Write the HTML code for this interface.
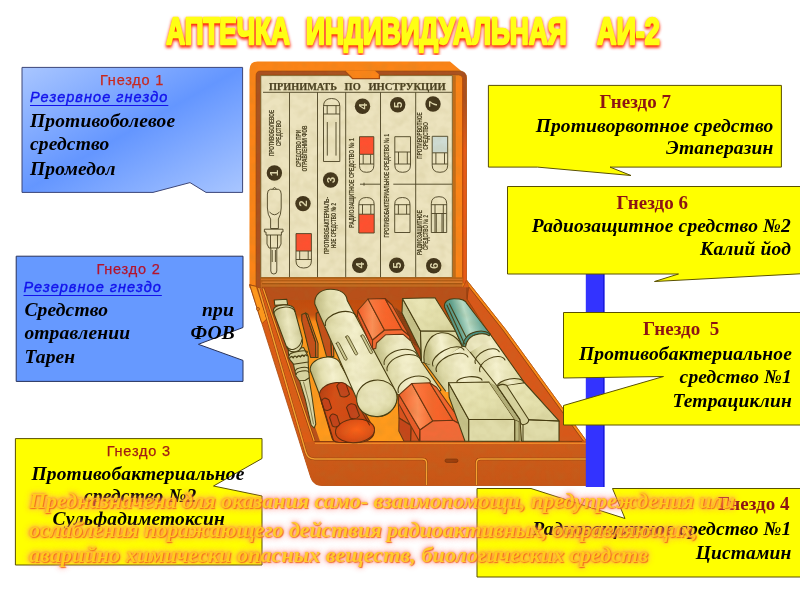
<!DOCTYPE html>
<html lang="ru">
<head>
<meta charset="utf-8">
<title>Аптечка индивидуальная АИ-2</title>
<style>
html,body{margin:0;padding:0;background:#fff;}
body{width:800px;height:600px;position:relative;overflow:hidden;font-family:"Liberation Serif",serif;}
#art{position:absolute;left:0;top:0;width:800px;height:600px;overflow:visible;}
#wrap{position:absolute;left:0;top:0;width:800px;height:600px;filter:blur(.5px);}
.t{position:absolute;white-space:nowrap;line-height:1;margin:0;}
.sans{font-family:"Liberation Sans",sans-serif;}
.gn{font-family:"Liberation Sans",sans-serif;color:#c8281e;font-size:14.5px;letter-spacing:.8px;}
.rz{font-family:"Liberation Sans",sans-serif;color:#1212ec;font-size:14.5px;letter-spacing:1.05px;font-style:italic;text-decoration:underline;}
.bi{font-family:"Liberation Serif",serif;font-weight:bold;font-style:italic;color:#000;font-size:19.5px;letter-spacing:.15px;}
.gr{font-family:"Liberation Serif",serif;font-weight:bold;color:#8c1414;font-size:19px;}
.r{text-align:right;}
#title{position:absolute;left:163px;top:11px;width:500px;height:44px;}
.ttl{font-family:"Liberation Sans",sans-serif;font-weight:bold;}
.bot{font-family:"Liberation Serif",serif;font-weight:bold;font-style:italic;font-size:22px;color:#ffc81e;opacity:.94;
 text-shadow:1px 1px 1px rgba(240,100,30,.95),0 0 2px rgba(250,110,60,.8),0 0 4px rgba(255,110,90,.75),0 0 6px rgba(255,140,125,.7),0 0 9px rgba(255,170,160,.6);}
#b2{letter-spacing:-.07px}#b3{letter-spacing:.1px}
.gn{-webkit-text-stroke:.25px currentColor;}.rz{-webkit-text-stroke:.4px currentColor;text-underline-offset:2.6px;text-decoration-thickness:1.4px;}
</style>
</head>
<body>
<div id="wrap">
<svg id="art" viewBox="0 0 800 600" width="800" height="600">
<defs>
<linearGradient id="gb1" x1="0" y1="0" x2="1" y2="1">
<stop offset="0" stop-color="#a9c6ff"/><stop offset=".5" stop-color="#6496ff"/><stop offset="1" stop-color="#a9c6ff"/>
</linearGradient>
</defs>
<!-- KIT-START -->
<defs>
<filter id="mott" x="0" y="0" width="100%" height="100%">
<feTurbulence type="fractalNoise" baseFrequency="0.09" numOctaves="2" seed="4" result="n"/>
<feColorMatrix in="n" type="matrix" values="0 0 0 0 0.35  0 0 0 0 0.33  0 0 0 0 0.12  0.55 0 0 0 -0.24" result="m"/>
<feComposite in="m" in2="SourceGraphic" operator="in" result="mm"/>
<feMerge><feMergeNode in="SourceGraphic"/><feMergeNode in="mm"/></feMerge>
</filter>
<linearGradient id="floorg" x1="0" y1="0" x2="0" y2="1">
<stop offset="0" stop-color="#bc480c"/><stop offset=".17" stop-color="#c8500f"/><stop offset=".215" stop-color="#f98a18"/><stop offset=".3" stop-color="#ff981c"/><stop offset="1" stop-color="#ff9a1c"/>
</linearGradient>
<linearGradient id="frontg" x1="0" y1="0" x2="0" y2="1">
<stop offset="0" stop-color="#ce5c1a"/><stop offset="1" stop-color="#c85616"/>
</linearGradient>
</defs>
<defs>
<linearGradient id="cylW" x1="0" y1="0.2" x2="1" y2="0">
<stop offset="0" stop-color="#bcb87e"/><stop offset=".18" stop-color="#e2deae"/><stop offset=".42" stop-color="#f5f1ce"/><stop offset=".75" stop-color="#e2deac"/><stop offset="1" stop-color="#c2be86"/>
</linearGradient>
<linearGradient id="cylA" x1="0" y1="0.2" x2="1" y2="0">
<stop offset="0" stop-color="#c4c088"/><stop offset=".45" stop-color="#eeeac2"/><stop offset="1" stop-color="#c6c28c"/>
</linearGradient>
<radialGradient id="endW" cx=".45" cy=".4" r=".65">
<stop offset="0" stop-color="#f0ecc8"/><stop offset=".7" stop-color="#e2deae"/><stop offset="1" stop-color="#c8c48c"/>
</radialGradient>
<linearGradient id="redcap" x1="0" y1="0" x2="1" y2=".3">
<stop offset="0" stop-color="#b23a10"/><stop offset=".3" stop-color="#d64e16"/><stop offset=".7" stop-color="#d04a14"/><stop offset="1" stop-color="#b84012"/>
</linearGradient>
<radialGradient id="redend" cx=".55" cy=".45" r=".6">
<stop offset="0" stop-color="#fa6218"/><stop offset=".6" stop-color="#e25216"/><stop offset="1" stop-color="#c84614"/>
</radialGradient>
<linearGradient id="hexL" x1="0" y1="0" x2="1" y2="0"><stop offset="0" stop-color="#f25e28"/><stop offset=".55" stop-color="#fd9058"/><stop offset="1" stop-color="#f86a30"/></linearGradient>
<linearGradient id="hexT" x1="0" y1="0" x2="1" y2="0"><stop offset="0" stop-color="#fb7c44"/><stop offset=".5" stop-color="#f8662c"/><stop offset="1" stop-color="#f45e26"/></linearGradient>
<linearGradient id="hexR" x1="0" y1="0" x2="1" y2="0"><stop offset="0" stop-color="#f76c34"/><stop offset="1" stop-color="#ec5a24"/></linearGradient>
<linearGradient id="boxT" x1="0" y1="0" x2="1" y2="1"><stop offset="0" stop-color="#ece8ba"/><stop offset=".55" stop-color="#e5e1ae"/><stop offset="1" stop-color="#d6d29c"/></linearGradient>
<linearGradient id="teal" x1="0" y1="0.3" x2="1" y2="0">
<stop offset="0" stop-color="#4a8a7c"/><stop offset=".2" stop-color="#60a290"/><stop offset=".42" stop-color="#b8dcc8"/><stop offset=".7" stop-color="#6aa898"/><stop offset="1" stop-color="#4a8e84"/>
</linearGradient>
</defs>
<defs>
<clipPath id="kitclip"><path d="M249.5 286V70Q249.5 62 257.5 62H451L466.5 75V280L506 330L586.5 441V485.5H322Q313.5 485.5 310.8 477.5Z"/></clipPath>
<filter id="grain" x="0" y="0" width="100%" height="100%">
<feTurbulence type="fractalNoise" baseFrequency="0.11" numOctaves="2" seed="11" result="n"/>
<feColorMatrix in="n" type="matrix" values="0 0 0 0 0.30  0 0 0 0 0.24  0 0 0 0 0.05  1.1 0 0 0 -0.42"/>
</filter>
</defs>
<defs><linearGradient id="lidR" gradientUnits="userSpaceOnUse" x1="0" y1="100" x2="0" y2="150"><stop offset="0" stop-color="#aa5020"/><stop offset="1" stop-color="#e65a18"/></linearGradient></defs>

<g id="lid">
<path d="M249.5 288V70Q249.5 61.6 257.5 61.6H450L466.6 75.4V288Z" fill="#fa8418"/>
<path d="M256 288V76Q256 71 260.5 71H459.5Q466.5 71.2 466.5 78V283H462.6V78.5Q462.6 75 458.6 75H260.8V288Z" fill="#aa5020" stroke="#984608" stroke-width=".6"/>
<path d="M462.6 100H466.5V283H462.6Z" fill="url(#lidR)"/>
<path d="M462.8 78V283" stroke="#c04a0a" stroke-width="1.1" fill="none"/>
<path d="M452.2 75H455.8V279H452.2Z" fill="#c46c18"/>
<path d="M260.8 277.5V75.6H452.3V277.5Z" fill="#ece3be" stroke="#6e5a28" stroke-width=".8"/>
<path d="M344.6 70.4L352.6 78.4H379.2V74.6L374.6 70.4Z" fill="#fa8418"/>
<path d="M344.8 71L352.6 78.6H379.4V74.6" fill="none" stroke="#a84c10" stroke-width="1.3"/>
<g font-family="Liberation Serif, serif" font-weight="bold" font-size="11.4" fill="#4a4122" stroke="#4a4122" stroke-width=".25">
<text x="269" y="89.6" textLength="68" lengthAdjust="spacingAndGlyphs">ПРИНИМАТЬ</text>
<text x="344.6" y="89.6" textLength="16.2" lengthAdjust="spacingAndGlyphs">ПО</text>
<text x="368.4" y="89.6" textLength="77.4" lengthAdjust="spacingAndGlyphs">ИНСТРУКЦИИ</text>
</g>
<g stroke="#4a4122" stroke-width=".9" fill="none">
<path d="M263 92.3H452"/>
<path d="M289.5 92.3V277.5"/>
<path d="M317.5 92.3V277.5"/>
<path d="M345.7 92.3V277.5"/>
<path d="M380.5 92.3V277.5"/>
<path d="M415.7 92.3V277.5"/>
<path d="M360 184.2H380.5M393.3 184.2H452M364 182.7v3"/>
</g>
<circle cx="274.4" cy="173" r="7.7" fill="#43361c"/><text transform="translate(278.4,173) rotate(-90)" text-anchor="middle" font-family="Liberation Sans, sans-serif" font-weight="bold" font-size="11.5" fill="#e1d9b0">1</text>
<circle cx="303" cy="203.6" r="7.7" fill="#43361c"/><text transform="translate(307,203.6) rotate(-90)" text-anchor="middle" font-family="Liberation Sans, sans-serif" font-weight="bold" font-size="11.5" fill="#e1d9b0">2</text>
<circle cx="330.6" cy="180" r="7.7" fill="#43361c"/><text transform="translate(334.6,180) rotate(-90)" text-anchor="middle" font-family="Liberation Sans, sans-serif" font-weight="bold" font-size="11.5" fill="#e1d9b0">3</text>
<circle cx="362.5" cy="106.2" r="7.7" fill="#43361c"/><text transform="translate(366.5,106.2) rotate(-90)" text-anchor="middle" font-family="Liberation Sans, sans-serif" font-weight="bold" font-size="11.5" fill="#e1d9b0">4</text>
<circle cx="397.7" cy="104.8" r="7.7" fill="#43361c"/><text transform="translate(401.7,104.8) rotate(-90)" text-anchor="middle" font-family="Liberation Sans, sans-serif" font-weight="bold" font-size="11.5" fill="#e1d9b0">5</text>
<circle cx="433" cy="104" r="7.7" fill="#43361c"/><text transform="translate(437,104) rotate(-90)" text-anchor="middle" font-family="Liberation Sans, sans-serif" font-weight="bold" font-size="11.5" fill="#e1d9b0">7</text>
<circle cx="359.7" cy="265.3" r="7.7" fill="#43361c"/><text transform="translate(363.7,265.3) rotate(-90)" text-anchor="middle" font-family="Liberation Sans, sans-serif" font-weight="bold" font-size="11.5" fill="#e1d9b0">4</text>
<circle cx="396.7" cy="265.3" r="7.7" fill="#43361c"/><text transform="translate(400.7,265.3) rotate(-90)" text-anchor="middle" font-family="Liberation Sans, sans-serif" font-weight="bold" font-size="11.5" fill="#e1d9b0">5</text>
<circle cx="433.7" cy="265.8" r="7.7" fill="#43361c"/><text transform="translate(437.7,265.8) rotate(-90)" text-anchor="middle" font-family="Liberation Sans, sans-serif" font-weight="bold" font-size="11.5" fill="#e1d9b0">6</text>
<text transform="translate(274.4,133) rotate(-90)" text-anchor="middle" textLength="46" lengthAdjust="spacingAndGlyphs" font-family="Liberation Sans, sans-serif" font-weight="bold" font-size="7.4" fill="#4c4426" stroke="#4c4426" stroke-width=".12">ПРОТИВОБОЛЕВОЕ</text>
<text transform="translate(280.8,133.3) rotate(-90)" text-anchor="middle" textLength="25.5" lengthAdjust="spacingAndGlyphs" font-family="Liberation Sans, sans-serif" font-weight="bold" font-size="7.4" fill="#4c4426" stroke="#4c4426" stroke-width=".12">СРЕДСТВО</text>
<text transform="translate(300.8,148.5) rotate(-90)" text-anchor="middle" textLength="37" lengthAdjust="spacingAndGlyphs" font-family="Liberation Sans, sans-serif" font-weight="bold" font-size="7.4" fill="#4c4426" stroke="#4c4426" stroke-width=".12">СРЕДСТВО ПРИ</text>
<text transform="translate(307.2,148.5) rotate(-90)" text-anchor="middle" textLength="46" lengthAdjust="spacingAndGlyphs" font-family="Liberation Sans, sans-serif" font-weight="bold" font-size="7.4" fill="#4c4426" stroke="#4c4426" stroke-width=".12">ОТРАВЛЕНИИ ФОВ</text>
<text transform="translate(328.8,225.5) rotate(-90)" text-anchor="middle" textLength="57" lengthAdjust="spacingAndGlyphs" font-family="Liberation Sans, sans-serif" font-weight="bold" font-size="7.4" fill="#4c4426" stroke="#4c4426" stroke-width=".12">ПРОТИВОБАКТЕРИАЛЬ-</text>
<text transform="translate(336.2,225.5) rotate(-90)" text-anchor="middle" textLength="45" lengthAdjust="spacingAndGlyphs" font-family="Liberation Sans, sans-serif" font-weight="bold" font-size="7.4" fill="#4c4426" stroke="#4c4426" stroke-width=".12">НОЕ СРЕДСТВО № 2</text>
<text transform="translate(354.3,183) rotate(-90)" text-anchor="middle" textLength="89.5" lengthAdjust="spacingAndGlyphs" font-family="Liberation Sans, sans-serif" font-weight="bold" font-size="7.4" fill="#4c4426" stroke="#4c4426" stroke-width=".12">РАДИОЗАЩИТНОЕ  СРЕДСТВО № 1</text>
<text transform="translate(389,185.7) rotate(-90)" text-anchor="middle" textLength="103.5" lengthAdjust="spacingAndGlyphs" font-family="Liberation Sans, sans-serif" font-weight="bold" font-size="7.4" fill="#4c4426" stroke="#4c4426" stroke-width=".12">ПРОТИВОБАКТЕРИАЛЬНОЕ СРЕДСТВО № 1</text>
<text transform="translate(421.8,135.5) rotate(-90)" text-anchor="middle" textLength="46.5" lengthAdjust="spacingAndGlyphs" font-family="Liberation Sans, sans-serif" font-weight="bold" font-size="7.4" fill="#4c4426" stroke="#4c4426" stroke-width=".12">ПРОТИВОРВОТНОЕ</text>
<text transform="translate(427.8,136) rotate(-90)" text-anchor="middle" textLength="27.5" lengthAdjust="spacingAndGlyphs" font-family="Liberation Sans, sans-serif" font-weight="bold" font-size="7.4" fill="#4c4426" stroke="#4c4426" stroke-width=".12">СРЕДСТВО</text>
<text transform="translate(421.8,232.5) rotate(-90)" text-anchor="middle" textLength="45" lengthAdjust="spacingAndGlyphs" font-family="Liberation Sans, sans-serif" font-weight="bold" font-size="7.4" fill="#4c4426" stroke="#4c4426" stroke-width=".12">РАДИОЗАЩИТНОЕ</text>
<text transform="translate(427.6,232.5) rotate(-90)" text-anchor="middle" textLength="35" lengthAdjust="spacingAndGlyphs" font-family="Liberation Sans, sans-serif" font-weight="bold" font-size="7.4" fill="#4c4426" stroke="#4c4426" stroke-width=".12">СРЕДСТВО № 2</text>
<g stroke="#4a4122" stroke-width=".9" fill="none" stroke-linejoin="round">
<path d="M323.5 161.5V106.5Q323.5 98.5 331.6 98.5Q339.8 98.5 339.8 106.5V161.5Z"/>
<path d="M323.5 105.6H339.8M323.5 114H339.8M327.2 105.6V114M336 105.6V114M327.3 122V155.6M336 122V155.6"/>
<path d="M359.5 154.3V165.722Q359.5 172.3 366.65 172.3Q373.8 172.3 373.8 165.722V154.3"/><path d="M359.5 164H373.8M363.2 154.3V164M370.6 154.3V164"/><rect x="359.5" y="136.7" width="14.300000000000011" height="17.600000000000023" fill="#ff5030"/>
<path d="M394.8 152V165.078Q394.8 172.3 402.65 172.3Q410.5 172.3 410.5 165.078V152"/><path d="M394.8 164H410.5M398.5 152V164M407.3 152V164"/><rect x="394.8" y="136.7" width="15.699999999999989" height="15.300000000000011" fill="none"/>
<path d="M432.2 152.8V165.17000000000002Q432.2 172.3 439.95 172.3Q447.7 172.3 447.7 165.17000000000002V152.8"/><path d="M432.2 164H447.7M435.9 152.8V164M444.5 152.8V164"/><rect x="432.2" y="136.3" width="15.5" height="16.5" fill="#cfdcd4"/>
<path d="M296 251V260.916Q296 268 303.7 268Q311.4 268 311.4 260.916V251"/><path d="M296 259.5H311.4M299.7 251V259.5M308.2 251V259.5"/><rect x="296" y="233.6" width="15.399999999999977" height="17.400000000000006" fill="#ff5030"/>
<path d="M358.8 214.2V204.584Q358.8 197.5 366.5 197.5Q374.2 197.5 374.2 204.584V214.2"/><path d="M358.8 204.7H374.2M362.5 204.7V214.2M370.8 204.7V214.2"/><rect x="358.8" y="214.2" width="15.399999999999977" height="18.80000000000001" fill="#ff5030"/>
<path d="M394.7 214.2V204.538Q394.7 197.5 402.35 197.5Q410 197.5 410 204.538V214.2"/><path d="M394.7 204.7H410M398.4 204.7V214.2M406.6 204.7V214.2"/><rect x="394.7" y="214.2" width="15.300000000000011" height="18.30000000000001" fill="none"/>
<path d="M431.3 213.5V203.784Q431.3 196.7 439.0 196.7Q446.7 196.7 446.7 203.784V213.5"/><path d="M431.3 204.7H446.7M435.0 204.7V213.5M443.3 204.7V213.5"/><rect x="431.3" y="213.5" width="15.399999999999977" height="19.0" fill="#e6dfba"/><path d="M435.0 213.5V232.5M443.3 213.5V232.5M436.3 213.5V232.5M442.0 213.5V232.5"/>
<path d="M272.8 189.2Q274.5 185.8 276.3 189.2"/>
<path d="M270.4 189.3H278.4Q281.2 189.8 281.2 194V208Q281 215 278.4 219V228.5H270.6V219Q267.6 215 267.4 208V194Q267.4 189.8 270.4 189.3Z"/>
<path d="M269.5 212Q274.4 217.5 279.5 212"/>
<path d="M264.4 229.2H283V232H281.4V235H266V232H264.4Z"/>
<path d="M267 235V244L269 248H279L281 244V235M270.5 235V248M277.5 235V248"/>
<path d="M270.8 248V271Q270.8 274 273.8 274Q276.8 274 276.8 271V248M272.2 250V262M275.4 250V262"/>
</g>
</g>

<g id="base" stroke-linejoin="round">
<path d="M260.8 277.6H462.6V288.4H260.8Z" fill="#c66a20"/>
<path d="M261 279.4H462.4" stroke="#d27024" stroke-width="1.8" fill="none"/>
<path d="M261 278.1H462.4" stroke="#a85a10" stroke-width=".9" fill="none"/>
<path d="M261 280.9H462.4" stroke="#a8540e" stroke-width="1" fill="none"/>
<path d="M262.5 282.4H462.4" stroke="#d87a2c" stroke-width="1.6" fill="none"/>
<path d="M262 283.8H462.4" stroke="#9a4e0c" stroke-width="1.1" fill="none"/>
<path d="M262 287.3H462.4" stroke="#a8500c" stroke-width="1.2" fill="none"/>
<path d="M249.5 284.5L260.8 288.2H462.6L466.5 280L506 330L586.5 441V485.5H322Q313.5 485.5 310.8 477.5Z" fill="#dc5c16" stroke="#a8480e" stroke-width=".8"/>
<path d="M466.8 280.5L506.0 330.0L586.5 441.0L583.3 441.0L502.8 330.0L468.8 287.0Z" fill="#fa8c18" stroke="#b4500f" stroke-width=".6"/>
<path d="M262.9 287.5L468.0 287.5L576.2 441.5L314.4 441.5Z" fill="#b8501a"/>
<path d="M267.3 289.0L467.0 300.0L576.1 441.3L320.0 441.3Z" fill="url(#floorg)"/>
<path d="M467.0 299.0L468.8 287.0L502.8 330.0L583.5 441.3L559.0 441.3L559.0 421.0L524.5 382.8L489.0 333.0Z" fill="#d8581a" stroke="#8c3c0c" stroke-width=".7"/>
<path d="M262.9 287.5L468.0 287.5L467.0 300.0L271.1 300.0Z" fill="#b8501a"/>
<path d="M467.0 287.5L467.0 299.5" stroke="#7c340a" stroke-width=".8" fill="none"/>
<path d="M249.8 285.0L256.4 286.4L266.8 319.0L262.6 323.0L261.4 322.0Z" fill="#ff981c" stroke="#8c3c0c" stroke-width=".7"/>
<circle cx="258" cy="309" r="1.5" fill="#f08a1c" stroke="#8c3c0c" stroke-width=".7"/>
<path d="M263.2 288.5L314.2 441.0" stroke="#8c3c0c" stroke-width="2.5" fill="none"/><path d="M263.2 288.5L314.2 441.0" stroke="#ffa22c" stroke-width="1.2" fill="none"/>
<path d="M314.4 441.5H586.5V485.5H322Q313.5 485.5 310.8 477.5L299.5 442.0Z" fill="url(#frontg)"/>
<path d="M258.7 288.0L305.7 452.0Q307.9 459 314.7 459H422.5Q426.5 459 426.5 463V485" stroke="#8c3c0c" stroke-width="2.5" fill="none"/><path d="M258.7 288.0L305.7 452.0Q307.9 459 314.7 459H422.5Q426.5 459 426.5 463V485" stroke="#f8a030" stroke-width="1.5" fill="none"/>
<path d="M476.5 485V463Q476.5 459 480.5 459H586" stroke="#8c3c0c" stroke-width="2.5" fill="none"/><path d="M476.5 485V463Q476.5 459 480.5 459H586" stroke="#f8a030" stroke-width="1.5" fill="none"/>
<rect x="445" y="459" width="13" height="3.4" rx="1.7" fill="#a03c0a" stroke="#6e2c08" stroke-width=".6"/>
<path d="M314.4 441.5H582" stroke="#8c3c0c" stroke-width="1" fill="none"/>
<path d="M315.0 443.4H586" stroke="#f08a28" stroke-width="1.2" fill="none"/>
</g>

<g id="items" stroke="#463c12" stroke-width="1.05" stroke-linejoin="round" stroke-linecap="round">
<g id="itA">
<path d="M299.0 379.0L309.0 377.5L312.2 398.0L315.8 424.0L314.2 428.0L311.2 425.0L305.2 399.0Z" fill="#dcd8a6"/>
<path d="M303.5 382.0L309.5 404.0L313.5 424.0" stroke-width=".6" fill="none"/>
<path d="M293.3 363.5L308.0 361.0L309.3 377.8L305.0 380.5L299.0 380.2L296.0 376.0Z" fill="#d8d4a0"/>
<path d="M295.5 371.0A6.63 2.60 -8.7 0 1 308.6 369.0" fill="none"/>
<path d="M296.2 374.5A6.43 2.60 -8.9 0 1 308.9 372.5" fill="none"/>
<path d="M288.2 350.5L303.6 347.5L308.2 356.5L308.2 362.0L293.5 364.2L289.0 358.5Z" fill="#dad6a2"/>
<path d="M289.6 358.2q1.8 -3.2 3.6 -.3q1.8 -3.2 3.6 -.4q1.8 -3.2 3.6 -.5q1.8 -3.2 3.6 -.6q1.6 -2.8 3.2 -.6" fill="none" stroke-width="1.3"/>
<path d="M289.3 355.5A9.24 2.60 -10.0 0 1 307.5 352.3" fill="none"/>
<path d="M274.2 299.9L286.8 299.3L287.6 304.5L274.8 305.2Z" fill="#e2deae"/>
<path d="M273.4 312C272.6 307 277 305.2 283.3 305C289.6 304.8 294 306 294.6 310L302.2 338C303.6 345 300.8 350.6 296.2 351.6C291.6 352.6 287.8 350.6 286.2 346Z" fill="url(#cylA)"/>
<path d="M273.9 313.6A10.60 5.60 -5.4 0 1 295.0 311.6" fill="none"/>
<path d="M286.8 346.5C289.8 352 299.8 349.8 302 339.5" fill="none"/>
</g>
<g id="divs">
<path d="M301.8 314.4L305.6 313.0L315.6 342.0L315.8 357.4L310.6 357.4L301.8 321.0Z" fill="#c4501a"/>
<path d="M305.6 313.0L307.8 314.2L318.0 343.3L318.0 357.4L315.8 357.4L315.6 342.0Z" fill="#e66c2a"/>
<path d="M316.2 313.2L320.2 311.4L331.0 340.0L331.6 356.6L326.6 356.6L316.2 319.5Z" fill="#c4501a"/>
<path d="M320.2 311.4L322.4 312.6L333.6 341.2L333.8 356.6L331.6 356.6L331.0 340.0Z" fill="#e66c2a"/>
</g>
<g id="itC" stroke="#5e2c0c">
<g stroke="#463c12">
<path d="M310.3 370.5A15.40 10.50 -11.2 0 1 340.5 364.5L357.0 394.0A18.14 3.00 172.9 0 0 321.0 398.5Z" fill="url(#cylW)"/>
</g>
<path d="M319.3 394.5C320 388 327.5 383.2 336.5 382.6C346.5 382 356 390 359 403L374 428.5C375.5 437 369 442.5 356.5 442.7L338.5 442.3C335 442 332.8 440.8 332 438Z" fill="url(#redcap)"/>
<ellipse cx="355" cy="430.8" rx="19.6" ry="11.8" transform="rotate(-5 355 430.8)" fill="url(#redend)"/>
<path d="M340.3 396.0L336.8 386.0Q339.8 380.1 346.0 384.2L349.5 394.2Q345.9 398.6 340.3 396.0Z" fill="#c4421a"/>
<path d="M350.3 418.0L346.5 407.5Q349.5 401.4 355.7 405.3L359.5 415.8Q355.9 420.4 350.3 418.0Z" fill="#c4421a"/>
<path d="M324.0 409.5L321.3 401.5Q323.5 395.7 328.9 399.9L331.6 407.9Q328.8 412.2 324.0 409.5Z" fill="#c4421a"/>
<path d="M332.4 426.0L329.6 417.5Q331.7 411.6 337.0 415.7L339.8 424.2Q337.1 428.6 332.4 426.0Z" fill="#c4421a"/>
<path d="M320.5 398.0L333.5 440.5" fill="none"/>
<path d="M358.0 405.0L369.5 425.0" fill="none"/>
</g>
<g id="itB">
<path d="M314.8 304C314 295 320.5 289.6 330 289.3C340 289 346.5 293.5 347.2 300.5L396.8 392C399 405 390 416.5 378 416.8C366.5 417 358.5 409.5 356.6 398.5Z" fill="url(#cylW)"/>
<path d="M325.5 325.5A16.12 9.20 -15.3 0 1 356.6 317.0" fill="none"/>
<ellipse cx="376.8" cy="398.3" rx="20.3" ry="18.2" transform="rotate(-10 376.8 398.3)" fill="url(#endW)"/>
<path d="M336.3 343.5L344.6 359.5A1.5 1.5 0 0 0 347.3 358.8L339.0 342.8A1.5 1.5 0 0 0 336.3 343.5Z" fill="#cfcb96" stroke-width=".8"/>
<path d="M345.8 337.0L355.0 354.3A1.5 1.5 0 0 0 357.7 353.6L348.5 336.3A1.5 1.5 0 0 0 345.8 337.0Z" fill="#cfcb96" stroke-width=".8"/>
<path d="M361.0 336.0L370.0 353.0A1.5 1.5 0 0 0 372.7 352.3L363.7 335.3A1.5 1.5 0 0 0 361.0 336.0Z" fill="#cfcb96" stroke-width=".8"/>
</g>
<path d="M393.0 305.5L402.3 312.0L420.0 349.5L422.0 363.5L416.5 352.0L409.5 336.0Z" fill="#b2481a" stroke="none"/>
<path d="M396.0 308.5L413.0 343.5" stroke="#6e3a10" stroke-width=".7" fill="none"/>
<path d="M397.7 309.8L414.6 344.7" stroke="#6e3a10" stroke-width=".7" fill="none"/>
<path d="M399.4 311.1L416.2 345.9" stroke="#6e3a10" stroke-width=".7" fill="none"/>
<path d="M401.1 312.4L417.8 347.1" stroke="#6e3a10" stroke-width=".7" fill="none"/>
<g id="itD" stroke="#6a3410">
<g stroke="#463c12">
<path d="M373.3 349.5L375.6 347.0A17.66 11.50 -13.1 0 1 410.0 339.0L412.8 345.0L423.0 364.0L441.0 390.0L430.0 400.0L397.5 394.5Z" fill="url(#cylW)"/>
<path d="M384.2 364.5A17.15 10.00 -15.2 0 1 417.3 355.5" fill="none"/>
<path d="M387.2 370.8A17.67 10.50 -16.9 0 1 421.0 360.5" fill="none"/>
<path d="M398.3 392.5A16.93 10.50 -18.1 0 1 430.5 382.0" fill="none"/>
</g>
<path d="M372.5 340.0L384.5 330.0L402.0 329.5L409.5 336.0L410.3 340.5L403.0 334.2L385.5 334.8L376.5 343.0L375.8 348.5L372.5 349.0Z" fill="#f66a34"/>
<path d="M357.8 310.5L357.5 316.5L372.5 349.0L372.5 340.0Z" fill="#ea5a28"/>
<path d="M357.8 310.5L368.0 299.0L384.5 330.0L372.5 340.0Z" fill="url(#hexL)"/>
<path d="M368.0 299.0L385.0 298.5L402.0 329.5L384.5 330.0Z" fill="url(#hexT)"/>
<path d="M385.0 298.5L392.0 305.0L409.5 336.0L402.0 329.5Z" fill="url(#hexR)"/>
<path d="M398.3 403.0L399.0 418.0L411.0 425.5L410.6 441.2L420.0 441.2L420.0 430.0L399.0 394.8Z" fill="#d8521e"/>
<path d="M399.0 418.0L411.0 425.5L410.6 441.2L404.0 441.2L398.8 431.0Z" fill="#c4461a"/>
<path d="M399.0 394.8L398.3 403.0L419.3 441.2L420.0 430.0Z" fill="#ea5a28"/>
<path d="M399.0 394.8L411.8 383.5L432.8 421.0L420.0 430.0Z" fill="url(#hexL)"/>
<path d="M411.8 383.5L429.8 382.8L453.0 420.3L432.8 421.0Z" fill="url(#hexT)"/>
<path d="M429.8 382.8L436.5 387.3L465.0 427.0L453.0 420.3Z" fill="url(#hexR)"/>
<path d="M420.0 430.0L432.8 421.0L453.0 420.3L465.0 427.0L465.0 441.2L420.0 441.2Z" fill="#f26a38"/>
</g>
<g id="itE">
<path d="M424.0 362.0L446.0 392.0L452.0 392.0L498.0 387.0L467.0 346.0L440.0 334.0Z" fill="url(#cylW)" stroke="none"/>
<path d="M424.0 362.0L445.5 391.0" fill="none"/>
<path d="M402.5 298.5L402.0 313.0L420.0 349.5L421.5 362.0L420.5 331.0Z" fill="#c6c28a"/>
<path d="M402.5 298.5L435.0 297.8L456.0 331.3L420.5 331.0Z" fill="url(#boxT)"/>
<path d="M420.5 331.0L456.0 331.3L462.0 346.0L430.0 364.5L421.5 362.0Z" fill="#dcd8a4"/>
<path d="M424.2 362.5C422.5 349 428 334.5 441 332.8C450 331.8 458 338 462 346L433 366Z" fill="url(#cylW)" stroke="none"/>
<path d="M424.2 362.5C422.5 349 428 334.5 441 332.8C450 331.8 458 338 462 346" fill="none"/>
<path d="M433.0 366.0A17.44 8.80 -27.3 0 1 464.0 350.0" fill="none"/>
<path d="M436.5 371.5A17.34 9.30 -24.7 0 1 468.0 357.0" fill="none"/>
<path d="M456.8 382.3A12.64 4.60 -4.5 0 1 482.0 380.3" fill="none"/>
<path d="M448.5 382.8L449.2 397.0L465.0 441.2L468.8 441.2L468.8 419.5Z" fill="#c6c28a"/>
<path d="M448.5 382.8L489.0 382.0L514.8 419.5L468.8 419.5Z" fill="url(#boxT)"/>
<path d="M468.8 419.5L514.8 419.5L514.8 441.2L468.8 441.2Z" fill="#e0dcaa"/>
<path d="M514.8 419.5L519.3 421.5L519.3 441.2L514.8 441.2Z" fill="#beba82"/>
</g>
<g id="itF">
<path d="M489.0 382.0L497.5 386.5L520.0 419.5L521.5 441.2L519.3 441.2L519.3 421.5L514.8 419.5Z" fill="#b4b07a" stroke="none"/>
<path d="M465.6 346.3L497.5 386.5L524.5 382.8L489.0 333.0Z" fill="url(#cylW)" stroke="none"/>
<path d="M465.6 346.3L497.5 386.5" fill="none"/>
<path d="M490.0 334.0L524.5 382.8" fill="none"/>
<path d="M475.4 363.5A13.31 7.70 -26.1 0 1 499.3 351.8" fill="none"/>
<path d="M480.0 371.7A13.80 8.00 -25.1 0 1 505.0 360.0" fill="none"/>
<path d="M444.4 307C444 301.5 448 298.8 453.8 298.7C460.5 298.6 465.8 300 467 303.8L490 333.8L489.5 335.5C486 332.8 474 332.5 468.5 339.5C466.5 342 465.8 344.5 465.6 346.8L462.5 346.3Z" fill="url(#teal)"/>
<path d="M466.3 337.5C470 331.5 483 328.5 490 333.8L489.3 335.8C485 332.6 473.5 332.8 468.3 339.8C466.5 342 465.8 344.5 465.6 346.8L463 346.3C462.8 343 464 340 466.3 337.5Z" fill="#4c9080"/>
<path d="M446.9 305.0L464.4 343.8" fill="none"/>
<path d="M449.4 303.8L466.3 337.5" fill="none"/>
<path d="M465.6 346.8C465.8 344.5 466.5 342 468.3 339.8C473.5 332.8 485 332.6 489.3 335.8L492 339L470 352Z" fill="#ece8c0" stroke="none"/>
<path d="M465.6 346.8C465.8 344.5 466.5 342 468.3 339.8C473.5 332.8 485 332.6 489.3 335.8" fill="none"/>
<path d="M497.5 386.5L524.5 382.8L559.0 421.0L559.0 441.2L521.5 441.2L520.0 419.5Z" fill="#e0dcaa"/>
<path d="M497.5 386.5L524.5 382.8L559.0 421.0L520.0 419.5Z" fill="url(#boxT)"/>
<path d="M497.5 386.5A13.17 5.60 -9.2 0 1 523.5 382.3" fill="url(#cylW)"/>
<path d="M497.5 386.5L520 419.5Q520.3 424.5 523 424.8Q528.5 424 528.8 419.8L506.5 385.2Q501 383 497.5 386.5Z" fill="#d8d4a0"/>
<path d="M528.8 419.8L559.0 421.0" fill="none"/>
<path d="M523.0 424.8L523.0 441.2" fill="none"/>
</g>
</g>

<rect x="245" y="58" width="345" height="430" filter="url(#grain)" clip-path="url(#kitclip)" opacity=".22"/>

<!-- KIT-END -->
<!-- blue bar -->
<rect x="585.8" y="270" width="18.6" height="217" fill="#3333ff"/><rect x="603.4" y="270" width="1" height="217" fill="#0a0ac8"/>
<!-- box 1 -->
<path d="M22 67.4H242.6V192.4H206L190 182.6L153 192.4H22Z" fill="url(#gb1)" stroke="#3c4678" stroke-width="1"/>
<!-- box 2 -->
<path d="M16.2 256.2H243V327.5L198.4 344.3L243 360.4V381.4H16.2Z" fill="#6699ff" stroke="#28325a" stroke-width="1"/>
<!-- box 3 -->
<path d="M15.4 438.6H262V458.5L213.5 486L262 496V565H15.4Z" fill="#ffff00" stroke="#5a5000" stroke-width="1"/>
<!-- box 7 -->
<path d="M488.4 85.4H781.4V167.1H610L631 175.5L537.5 167.1H488.4Z" fill="#ffff00" stroke="#5a5000" stroke-width="1"/>
<!-- box 6 -->
<path d="M507.5 186.5H806V273.5L654.5 281.5L678.5 274H507.5Z" fill="#ffff00" stroke="#5a5000" stroke-width="1"/>
<!-- box 5 -->
<path d="M563.5 312.5H806V425H563.5V405.5L663.5 376.5L563.5 378Z" fill="#ffff00" stroke="#5a5000" stroke-width="1"/>
<!-- box 4 -->
<path d="M477 488.5H531L625 518.5L612.5 488.5H806V577H477Z" fill="#ffff00" stroke="#5a5000" stroke-width="1"/>
</svg>

<!-- title -->
<svg id="title" viewBox="0 0 500 44">
<defs>
<filter id="tg" x="-5%" y="-30%" width="110%" height="170%">
<feGaussianBlur stdDeviation="1.6"/>
</filter>
</defs>
<g class="ttl" font-size="36.2" font-weight="bold" font-family="Liberation Sans, sans-serif" stroke-linejoin="round">
<text x="3.2" y="35.2" textLength="123.6" lengthAdjust="spacingAndGlyphs" fill="#ff2800" stroke="#ff2800" stroke-width="3.6" filter="url(#tg)">АПТЕЧКА</text>
<text x="143" y="35.2" textLength="260.8" lengthAdjust="spacingAndGlyphs" fill="#ff2800" stroke="#ff2800" stroke-width="3.6" filter="url(#tg)">ИНДИВИДУАЛЬНАЯ</text>
<text x="434" y="35.2" textLength="62.8" lengthAdjust="spacingAndGlyphs" fill="#ff2800" stroke="#ff2800" stroke-width="3.6" filter="url(#tg)">АИ-2</text>
<text x="3.2" y="33" textLength="123.6" lengthAdjust="spacingAndGlyphs" fill="#ffff14" stroke="#ffff14" stroke-width="2.4">АПТЕЧКА</text>
<text x="143" y="33" textLength="260.8" lengthAdjust="spacingAndGlyphs" fill="#ffff14" stroke="#ffff14" stroke-width="2.4">ИНДИВИДУАЛЬНАЯ</text>
<text x="434" y="33" textLength="62.8" lengthAdjust="spacingAndGlyphs" fill="#ffff14" stroke="#ffff14" stroke-width="2.4">АИ-2</text>
</g>
</svg>

<!-- box 1 text -->
<div class="t gn" style="left:100px;top:73.0px;">Гнездо 1</div>
<div class="t rz" style="left:30px;top:89.8px;">Резервное гнездо</div>
<div class="t bi" style="left:30px;top:110.7px;">Противоболевое</div>
<div class="t bi" style="left:30px;top:134.3px;">средство</div>
<div class="t bi" style="left:30px;top:158.6px;">Промедол</div>

<!-- box 2 text -->
<div class="t gn" style="left:96.4px;top:262.3px;color:#b4142d;">Гнездо 2</div>
<div class="t rz" style="left:23.5px;top:280.3px;">Резервное гнездо</div>
<div class="t bi" style="left:24.4px;top:299.7px;width:209.5px;"><span style="float:left">Средство</span><span style="float:right">при</span></div>
<div class="t bi" style="left:24.4px;top:323.1px;width:210.5px;"><span style="float:left">отравлении</span><span style="float:right">ФОВ</span></div>
<div class="t bi" style="left:24.4px;top:347.1px;">Тарен</div>

<!-- box 3 text -->
<div class="t gn" style="left:106.7px;top:443.7px;color:#a01e14;">Гнездо 3</div>
<div class="t bi" style="left:31.5px;top:464.4px;">Противобактериальное</div>
<div class="t bi" style="left:84px;top:486.4px;">средство №2</div>
<div class="t bi" style="left:52.5px;top:509.4px;">Сульфадиметоксин</div>

<!-- box 7 text -->
<div class="t gr" style="left:599.5px;top:92.1px;">Гнездо 7</div>
<div class="t bi" style="right:26.5px;top:115.9px;">Противорвотное средство</div>
<div class="t bi" style="right:26.5px;top:137.7px;">Этаперазин</div>

<!-- box 6 text -->
<div class="t gr" style="left:616.5px;top:193.1px;">Гнездо 6</div>
<div class="t bi" style="right:9px;top:215.7px;">Радиозащитное средство №2</div>
<div class="t bi" style="right:9px;top:238.7px;">Калий йод</div>

<!-- box 5 text -->
<div class="t gr" style="left:643px;top:319.1px;">Гнездо&nbsp; 5</div>
<div class="t bi" style="right:8px;top:343.7px;">Противобактериальное</div>
<div class="t bi" style="right:8px;top:366.7px;">средство №1</div>
<div class="t bi" style="right:8px;top:390.7px;">Тетрациклин</div>

<!-- box 4 text -->
<div class="t gr" style="left:718px;top:494.1px;">Гнездо 4</div>
<div class="t bi" style="right:8.5px;top:519.3px;">Радиозащитное средство №1</div>
<div class="t bi" style="right:8.5px;top:542.7px;">Цистамин</div>

<!-- bottom text -->
<div class="t bot" id="b1" style="left:29px;top:489.5px;">Предназначена для оказания само- взаимопомощи, предупреждения или</div>
<div class="t bot" id="b2" style="left:29px;top:518.5px;">ослабления поражающего действия радиоактивных, отравляющих,</div>
<div class="t bot" id="b3" style="left:29px;top:544px;">аварийно химически опасных веществ, биологических средств</div>
</div>
</body>
</html>
